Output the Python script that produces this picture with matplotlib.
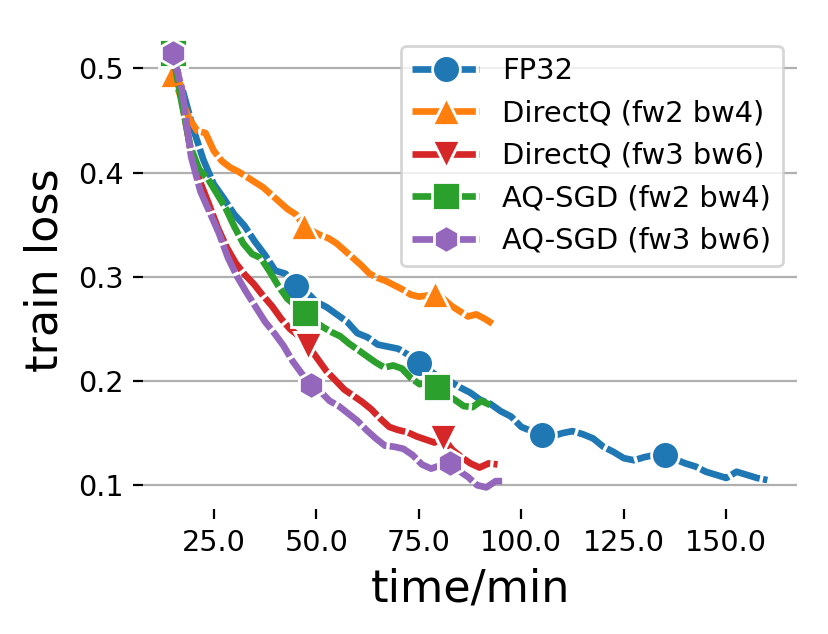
import matplotlib
matplotlib.use("Agg")
import matplotlib.pyplot as plt
from matplotlib.ticker import FormatStrFormatter

# FP32
fp32_time = [15.0, 17.5, 20.0, 22.5, 25.0, 27.5, 30.0, 32.5, 35.0, 37.5,
             40.0, 42.5, 45.0, 47.5, 50.0, 52.5, 55.0, 57.5, 60.0, 62.5,
             65.0, 67.5, 70.0, 72.5, 75.0, 77.5, 80.0, 82.5, 85.0, 87.5,
             90.0, 92.5, 95.0, 97.5, 100.0, 102.5, 105.0, 107.5, 110.0, 112.5,
             115.0, 117.5, 120.0, 122.5, 125.0, 127.5, 130.0, 132.5, 135.0, 137.5,
             140.0, 142.5, 145.0, 147.5, 150.0, 152.5, 155.0, 157.5, 160.0]
fp32_loss = [0.515, 0.478, 0.442, 0.412, 0.389, 0.375, 0.360, 0.349, 0.334, 0.321,
             0.306, 0.303, 0.291, 0.286, 0.276, 0.271, 0.264, 0.257, 0.246, 0.242,
             0.235, 0.233, 0.231, 0.225, 0.217, 0.211, 0.203, 0.200, 0.194, 0.189,
             0.182, 0.178, 0.171, 0.166, 0.156, 0.152, 0.148, 0.147, 0.150, 0.152,
             0.149, 0.145, 0.137, 0.132, 0.126, 0.124, 0.127, 0.129, 0.129, 0.125,
             0.121, 0.118, 0.113, 0.110, 0.107, 0.113, 0.110, 0.107, 0.105]

# DirectQ (fw2 bw4)
dq24_time = [15, 17, 19, 21, 23, 25, 27, 29, 31, 33,
             35, 37, 39, 41, 43, 45, 47, 49, 51, 53,
             55, 57, 59, 61, 63, 65, 67, 69, 71, 73,
             75, 77, 79, 81, 83, 85, 87, 89, 91, 93]
dq24_loss = [0.495, 0.472, 0.452, 0.440, 0.438, 0.421, 0.411, 0.405, 0.401, 0.396,
             0.391, 0.386, 0.379, 0.372, 0.365, 0.360, 0.349, 0.344, 0.340, 0.337,
             0.332, 0.325, 0.318, 0.311, 0.303, 0.299, 0.296, 0.292, 0.288, 0.283,
             0.281, 0.282, 0.284, 0.279, 0.272, 0.267, 0.262, 0.264, 0.260, 0.255]

# DirectQ (fw3 bw6)
dq36_time = [15.0, 17.2, 19.4, 21.6, 23.8, 26.0, 28.2, 30.4, 32.6, 34.8,
             37.0, 39.2, 41.4, 43.6, 45.8, 48.0, 50.2, 52.4, 54.6, 56.8,
             59.0, 61.2, 63.4, 65.6, 67.8, 70.0, 72.2, 74.4, 76.6, 78.8,
             81.0, 83.2, 85.4, 87.6, 89.8, 92.0, 94.2]
dq36_loss = [0.515, 0.470, 0.420, 0.392, 0.370, 0.347, 0.328, 0.313, 0.302, 0.293,
             0.282, 0.272, 0.260, 0.250, 0.243, 0.234, 0.222, 0.210, 0.201, 0.192,
             0.186, 0.180, 0.173, 0.164, 0.156, 0.153, 0.151, 0.147, 0.144, 0.141,
             0.145, 0.134, 0.127, 0.121, 0.117, 0.121, 0.120]

# AQ-SGD (fw2 bw4)
aq24_time = [15.0, 17.15, 19.3, 21.45, 23.6, 25.75, 27.9, 30.05, 32.2, 34.35,
             36.5, 38.65, 40.8, 42.95, 45.1, 47.25, 49.4, 51.55, 53.7, 55.85,
             58.0, 60.15, 62.3, 64.45, 66.6, 68.75, 70.9, 73.05, 75.2, 77.35,
             79.5, 81.65, 83.8, 85.95, 88.1, 90.25, 92.4]
aq24_loss = [0.515, 0.468, 0.425, 0.403, 0.394, 0.380, 0.366, 0.348, 0.332, 0.322,
             0.318, 0.305, 0.291, 0.279, 0.272, 0.265, 0.258, 0.252, 0.247, 0.243,
             0.236, 0.230, 0.224, 0.218, 0.213, 0.215, 0.212, 0.203, 0.197, 0.199,
             0.194, 0.187, 0.182, 0.176, 0.175, 0.181, 0.177]

# AQ-SGD (fw3 bw6)
aq36_time = [15.0, 17.25, 19.5, 21.75, 24.0, 26.25, 28.5, 30.75, 33.0, 35.25,
             37.5, 39.75, 42.0, 44.25, 46.5, 48.75, 51.0, 53.25, 55.5, 57.75,
             60.0, 62.25, 64.5, 66.75, 69.0, 71.25, 73.5, 75.75, 78.0, 80.25,
             82.5, 84.75, 87.0, 89.25, 91.5, 93.75, 96.0]
aq36_loss = [0.515, 0.480, 0.415, 0.382, 0.362, 0.342, 0.318, 0.300, 0.285, 0.271,
             0.257, 0.246, 0.234, 0.219, 0.207, 0.196, 0.190, 0.181, 0.176, 0.169,
             0.162, 0.153, 0.145, 0.138, 0.137, 0.135, 0.129, 0.120, 0.116, 0.119,
             0.121, 0.114, 0.108, 0.100, 0.098, 0.104, 0.104]

series = [
    ("FP32", fp32_time, fp32_loss, "o", "#1f77b4", 12),
    ("DirectQ (fw2 bw4)", dq24_time, dq24_loss, "^", "#ff7f0e", 16),
    ("DirectQ (fw3 bw6)", dq36_time, dq36_loss, "v", "#d62728", 15),
    ("AQ-SGD (fw2 bw4)", aq24_time, aq24_loss, "s", "#2ca02c", 15),
    ("AQ-SGD (fw3 bw6)", aq36_time, aq36_loss, "h", "#9467bd", 15),
]

fig = plt.figure(figsize=(4.145, 3.17), dpi=200)
ax = fig.add_axes([0.1725, 0.197, 0.789, 0.754])

for label, t, loss, mk, col, every in series:
    ax.plot(t, loss, linestyle=(0, (4.5, 0.5)), linewidth=2.4, color=col,
            marker=mk, markersize=10, markevery=every,
            markeredgecolor="white", markeredgewidth=1.0, label=label)

for s in ax.spines.values():
    s.set_visible(False)
ax.yaxis.grid(True, color="#b0b0b0", linewidth=0.8)
ax.set_axisbelow(True)
ax.xaxis.set_major_formatter(FormatStrFormatter("%.1f"))
ax.tick_params(labelsize=10.3)
ax.set_xlabel("time/min", fontsize=16)
ax.set_ylabel("train loss", fontsize=16)
ax.legend(loc="upper right", fontsize=10.4, framealpha=0.8, handlelength=2.3)

fig.savefig("out.png", dpi=200)
